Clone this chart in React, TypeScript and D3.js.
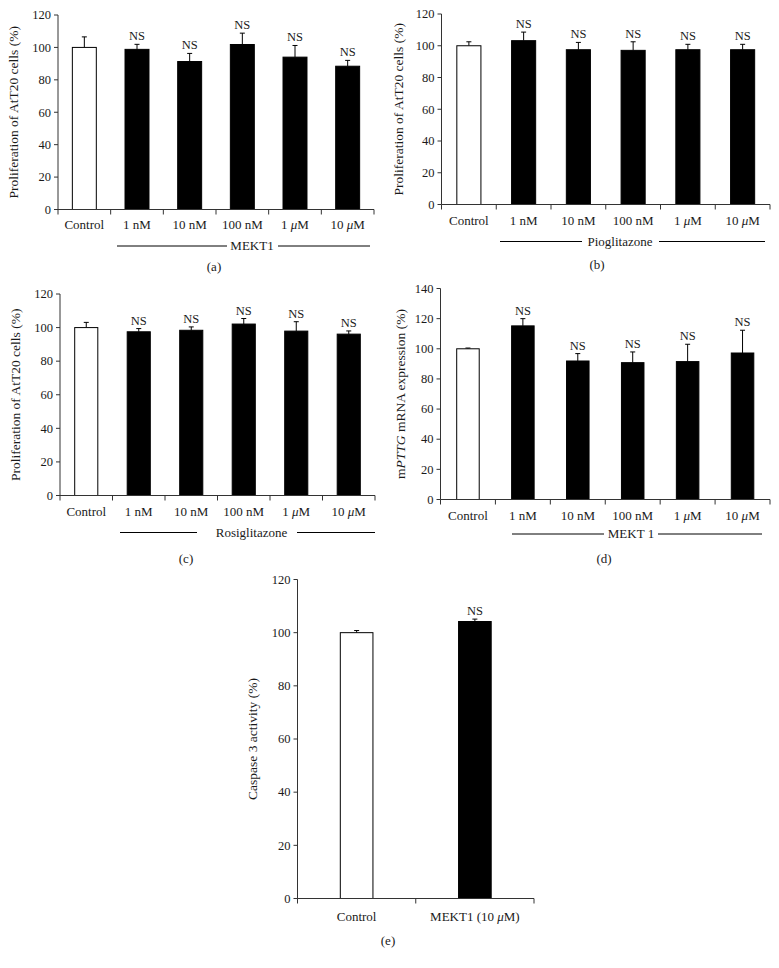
import React from 'react';
import * as d3 from 'd3';

const FONT = "'Liberation Serif', 'Times New Roman', serif";

const cats6 = ['Control', '1 nM', '10 nM', '100 nM', '1 μM', '10 μM'];
const catsE = ['Control', 'MEKT1 (10 μM)'];

const ticks120 = [0, 20, 40, 60, 80, 100, 120];
const ticks140 = [0, 20, 40, 60, 80, 100, 120, 140];

const aValues = [100, 98.8, 91.3, 101.8, 94, 88.4];
const aErrors = [6.5, 3.1, 5, 7, 7.2, 3.6];

const bValues = [100, 103.2, 97.5, 97.1, 97.5, 97.5];
const bErrors = [2.5, 5.4, 4.6, 5.4, 3.4, 3.4];

const cValues = [100, 97.5, 98.4, 102.1, 97.9, 96.1];
const cErrors = [3.1, 1.9, 2, 3.3, 5.6, 1.9];

const dValues = [100, 115.2, 91.9, 90.8, 91.5, 97.2];
const dErrors = [0.5, 4.8, 4.9, 7.1, 11.5, 15.1];

const eValues = [100, 104.2];
const eErrors = [0.8, 0.9];

const ns6 = [false, true, true, true, true, true];
const nsE = [false, true];

type Part = { t: string; i?: boolean };

const FS = 13;
const TICK_FS = 12.5;
const NS_FS = 12.5;
const YL_FS = 13.5;
const TXT = '#1a1a1a';

function Label({ s }: { s: string }) {
  const parts = s.split('μ');
  if (parts.length === 1) return <>{s}</>;
  return (
    <>
      {parts[0]}
      <tspan fontStyle="italic">μ</tspan>
      {parts[1]}
    </>
  );
}

type PanelProps = {
  cats: string[];
  values: number[];
  errors: number[];
  ns: boolean[];
  ticks: number[];
  left: number;
  right: number;
  top: number;
  bottom: number;
  barFrac: number;
  yLabel: Part[];
  yLabelX: number;
  labelY: number;
  group?: { text: string; y: number; l1: number; l2: number; r1: number; r2: number; tx: number };
  panel: { text: string; x: number; y: number };
};

function Panel(p: PanelProps) {
  const yMax = p.ticks[p.ticks.length - 1];
  const x = d3.scaleBand().domain(p.cats).range([p.left, p.right]).padding(0);
  const y = d3.scaleLinear().domain([0, yMax]).range([p.bottom, p.top]);
  const bw = x.bandwidth() * p.barFrac;
  const axisColor = '#333';
  const boundaries = p.cats.map((c) => x(c) as number).concat([p.right]);
  const midY = (p.top + p.bottom) / 2;
  return (
    <g>
      {p.cats.map((c, i) => {
        const cx = (x(c) as number) + x.bandwidth() / 2;
        const top = y(p.values[i]);
        const et = y(p.values[i] + p.errors[i]);
        return (
          <g key={c}>
            <line x1={cx} x2={cx} y1={top} y2={et} stroke="#000" strokeWidth={1} />
            <line x1={cx - 2.5} x2={cx + 2.5} y1={et} y2={et} stroke="#000" strokeWidth={1} />
            <rect
              x={cx - bw / 2}
              y={top}
              width={bw}
              height={p.bottom - top}
              fill={i === 0 ? '#fff' : '#000'}
              stroke="#000"
              strokeWidth={1}
            />
            {p.ns[i] && (
              <text x={cx} y={et - 4} textAnchor="middle" fontSize={NS_FS} fontFamily={FONT} fill={TXT}>
                NS
              </text>
            )}
            <text x={cx} y={p.labelY} textAnchor="middle" fontSize={FS} fontFamily={FONT} fill={TXT}>
              <Label s={c} />
            </text>
          </g>
        );
      })}
      <line x1={p.left} x2={p.left} y1={p.top} y2={p.bottom} stroke={axisColor} strokeWidth={1} />
      {p.ticks.map((t) => (
        <g key={t}>
          <line x1={p.left - 4} x2={p.left} y1={y(t)} y2={y(t)} stroke={axisColor} strokeWidth={1} />
          <text x={p.left - 7} y={y(t)} dy="0.34em" textAnchor="end" fontSize={TICK_FS} fontFamily={FONT} fill={TXT}>
            {t}
          </text>
        </g>
      ))}
      <line x1={p.left} x2={p.right} y1={p.bottom} y2={p.bottom} stroke={axisColor} strokeWidth={1} />
      {boundaries.map((b, i) => (
        <line key={i} x1={b} x2={b} y1={p.bottom} y2={p.bottom + 5} stroke={axisColor} strokeWidth={1} />
      ))}
      <text
        transform={`translate(${p.yLabelX},${midY}) rotate(-90)`}
        textAnchor="middle"
        dominantBaseline="central"
        fontSize={YL_FS}
        fontFamily={FONT}
        fill={TXT}
      >
        {p.yLabel.map((pt, i) => (
          <tspan key={i} fontStyle={pt.i ? 'italic' : 'normal'}>
            {pt.t}
          </tspan>
        ))}
      </text>
      {p.group && (
        <g>
          <line x1={p.group.l1} x2={p.group.l2} y1={p.group.y} y2={p.group.y} stroke="#000" strokeWidth={1} />
          <line x1={p.group.r1} x2={p.group.r2} y1={p.group.y} y2={p.group.y} stroke="#000" strokeWidth={1} />
          <text x={p.group.tx} y={p.group.y} dy="0.32em" textAnchor="middle" fontSize={FS} fontFamily={FONT} fill={TXT}>
            {p.group.text}
          </text>
        </g>
      )}
      <text x={p.panel.x} y={p.panel.y} textAnchor="middle" fontSize={FS} fontFamily={FONT} fill={TXT}>
        {p.panel.text}
      </text>
    </g>
  );
}

const prolif: Part[] = [{ t: 'Proliferation of AtT20 cells (%)' }];
const pttg: Part[] = [{ t: 'm' }, { t: 'PTTG', i: true }, { t: ' mRNA expression (%)' }];
const casp: Part[] = [{ t: 'Caspase 3 activity (%)' }];

export default function App() {
  return (
    <svg
      width={779}
      height={968}
      style={{ position: 'absolute', left: 0, top: 0, background: '#fff' }}
    >
      <rect width={779} height={968} fill="#fff" />
      <Panel
        cats={cats6}
        values={aValues}
        errors={aErrors}
        ns={ns6}
        ticks={ticks120}
        left={58}
        right={374}
        top={15}
        bottom={209.5}
        barFrac={0.455}
        yLabel={prolif}
        yLabelX={13}
        labelY={229}
        group={{ text: 'MEKT1', y: 246, l1: 117, l2: 227, r1: 278, r2: 370, tx: 252 }}
        panel={{ text: '(a)', x: 214, y: 271 }}
      />
      <Panel
        cats={cats6}
        values={bValues}
        errors={bErrors}
        ns={ns6}
        ticks={ticks120}
        left={441.5}
        right={770}
        top={14}
        bottom={204.5}
        barFrac={0.44}
        yLabel={prolif}
        yLabelX={398}
        labelY={224.5}
        group={{ text: 'Pioglitazone', y: 241.5, l1: 500, l2: 582, r1: 659, r2: 765, tx: 620 }}
        panel={{ text: '(b)', x: 597, y: 269 }}
      />
      <Panel
        cats={cats6}
        values={cValues}
        errors={cErrors}
        ns={ns6}
        ticks={ticks120}
        left={60}
        right={375}
        top={294}
        bottom={495.5}
        barFrac={0.44}
        yLabel={prolif}
        yLabelX={15}
        labelY={516}
        group={{ text: 'Rosiglitazone', y: 532.5, l1: 120, l2: 197, r1: 297, r2: 375, tx: 251.5 }}
        panel={{ text: '(c)', x: 186, y: 563 }}
      />
      <Panel
        cats={cats6}
        values={dValues}
        errors={dErrors}
        ns={ns6}
        ticks={ticks140}
        left={440.5}
        right={770}
        top={288.5}
        bottom={499.5}
        barFrac={0.41}
        yLabel={pttg}
        yLabelX={400}
        labelY={519.5}
        group={{ text: 'MEKT 1', y: 534, l1: 512, l2: 604, r1: 658, r2: 762, tx: 631 }}
        panel={{ text: '(d)', x: 604, y: 563 }}
      />
      <Panel
        cats={catsE}
        values={eValues}
        errors={eErrors}
        ns={nsE}
        ticks={ticks120}
        left={297.5}
        right={534}
        top={579.5}
        bottom={898.5}
        barFrac={0.276}
        yLabel={casp}
        yLabelX={252}
        labelY={921}
        panel={{ text: '(e)', x: 388, y: 945 }}
      />
    </svg>
  );
}
